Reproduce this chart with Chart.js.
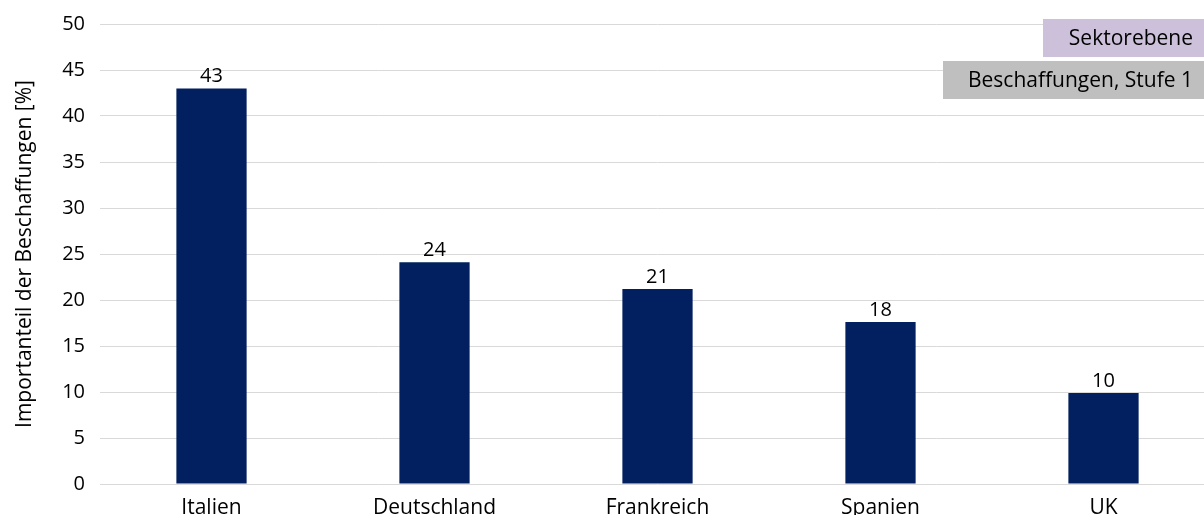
<!DOCTYPE html>
<html lang="de">
<head>
<meta charset="utf-8">
<title>Importanteil der Beschaffungen</title>
<script src="https://cdn.jsdelivr.net/npm/chart.js@4.4.1/dist/chart.umd.min.js"></script>
<style>
  html, body { margin: 0; padding: 0; background: #fff; overflow: hidden; }
  #wrap { position: relative; width: 1215px; height: 530px; }
</style>
</head>
<body>
<div id="wrap"><canvas id="chart"></canvas></div>
<script>
// Länder und Importanteile (%)
const categories = ['Italien', 'Deutschland', 'Frankreich', 'Spanien', 'UK'];
const shares = [43, 24.1, 21.2, 17.6, 9.9];
const yTicks = [0, 5, 10, 15, 20, 25, 30, 35, 40, 45, 50];
const axisTitle = 'Importanteil der Beschaffungen [%]';
const tags = ['Sektorebene', 'Beschaffungen, Stufe 1'];
const tagColors = ['#ccc0da', '#bfbfbf'];

const FONT = '"Open Sans", "Noto Sans", sans-serif';

// Wertbeschriftungen über den Balken
const barLabels = {
  id: 'barLabels',
  afterDatasetsDraw(chart) {
    const ctx = chart.ctx;
    const meta = chart.getDatasetMeta(0);
    ctx.save();
    ctx.font = '20px ' + FONT;
    ctx.fillStyle = '#000';
    ctx.textAlign = 'center';
    ctx.textBaseline = 'alphabetic';
    meta.data.forEach((bar, i) => {
      ctx.fillText(String(Math.round(shares[i])), bar.x, bar.y - 6);
    });
    ctx.restore();
  }
};

// Achsentitel links, senkrecht
const yTitle = {
  id: 'yTitle',
  afterDraw(chart) {
    const ctx = chart.ctx;
    const a = chart.chartArea;
    ctx.save();
    ctx.font = '21px ' + FONT;
    ctx.fillStyle = '#000';
    ctx.textAlign = 'center';
    ctx.textBaseline = 'middle';
    ctx.translate(25, (a.top + a.bottom) / 2);
    ctx.rotate(-Math.PI / 2);
    ctx.fillText(axisTitle, 0, 0);
    ctx.restore();
  }
};

// Kennzeichnungskästen oben rechts
const tagBoxes = {
  id: 'tagBoxes',
  afterDraw(chart) {
    const ctx = chart.ctx;
    ctx.save();
    ctx.font = '21px ' + FONT;
    ctx.textBaseline = 'middle';
    ctx.textAlign = 'right';
    const right = 1204, h = 38;
    const tops = [19, 61];
    const widths = [161, 261];
    tags.forEach((t, i) => {
      ctx.fillStyle = tagColors[i];
      ctx.fillRect(right - widths[i], tops[i], widths[i], h);
      ctx.fillStyle = '#000';
      ctx.fillText(t, right - 11, tops[i] + h / 2 + 1);
    });
    ctx.restore();
  }
};

new Chart(document.getElementById('chart'), {
  type: 'bar',
  data: {
    labels: categories,
    datasets: [{
      data: shares,
      backgroundColor: '#02205f',
      borderWidth: 0,
      categoryPercentage: 1,
      barPercentage: 0.315
    }]
  },
  options: {
    responsive: true,
    maintainAspectRatio: false,
    animation: false,
    layout: { padding: { top: 24, right: 0, bottom: 0, left: 0 } },
    plugins: { legend: { display: false }, tooltip: { enabled: false } },
    scales: {
      x: {
        grid: { display: false },
        border: { display: false },
        ticks: { color: '#000', font: { family: FONT, size: 21 }, padding: 3, maxRotation: 0 },
        afterFit: s => { s.height = 46; s.paddingLeft = 0; s.paddingRight = 0; }
      },
      y: {
        min: 0,
        max: 50,
        afterBuildTicks: s => { s.ticks = yTicks.map(v => ({ value: v })); },
        grid: { color: '#d9d9d9', lineWidth: 1, drawTicks: false },
        border: { display: false },
        ticks: { color: '#000', font: { family: FONT, size: 20 }, padding: 15 },
        afterFit: s => { s.width = 100; s.paddingTop = 0; s.paddingBottom = 0; }
      }
    }
  },
  plugins: [barLabels, yTitle, tagBoxes]
});
</script>
</body>
</html>
